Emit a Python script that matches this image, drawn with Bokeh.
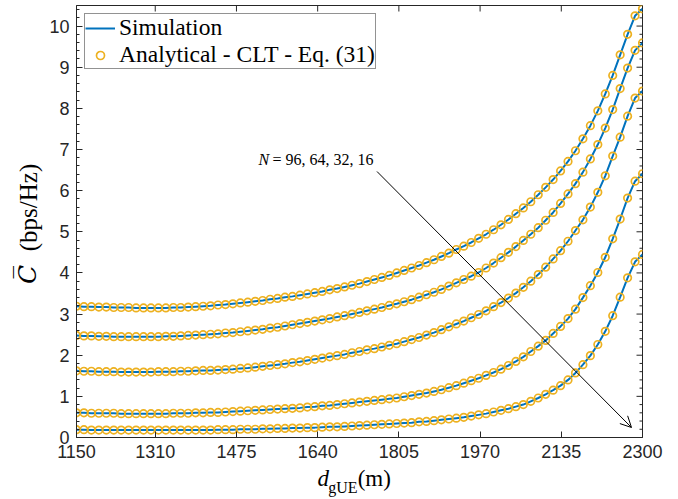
import numpy as np
from bokeh.plotting import figure
from bokeh.layouts import row, column
from bokeh.models import (Range1d, FixedTicker, SingleIntervalTicker, Label,
                          Arrow, OpenHead, Legend, LegendItem)
from bokeh.embed import file_html
from bokeh.resources import INLINE

# ---------------- data ----------------
d_start, d_stop, n_points = 1150, 2300, 77
d_gue = np.linspace(d_start, d_stop, n_points)

cap_1 = [3.19, 3.18, 3.18, 3.17, 3.17, 3.16, 3.16, 3.16, 3.15, 3.15,
         3.15, 3.15, 3.15, 3.16, 3.16, 3.17, 3.18, 3.19, 3.20, 3.22,
         3.23, 3.25, 3.27, 3.29, 3.31, 3.33, 3.36, 3.38, 3.41, 3.43,
         3.46, 3.49, 3.52, 3.55, 3.59, 3.62, 3.66, 3.70, 3.74, 3.79,
         3.84, 3.89, 3.94, 4.00, 4.06, 4.12, 4.18, 4.25, 4.32, 4.40,
         4.48, 4.57, 4.65, 4.74, 4.84, 4.94, 5.05, 5.17, 5.30, 5.44,
         5.58, 5.73, 5.90, 6.08, 6.27, 6.48, 6.71, 6.97, 7.26, 7.58,
         7.94, 8.35, 8.80, 9.30, 9.80, 10.25, 10.42]
cap_2 = [2.48, 2.47, 2.47, 2.46, 2.46, 2.45, 2.45, 2.45, 2.45, 2.45,
         2.45, 2.45, 2.46, 2.46, 2.47, 2.48, 2.49, 2.50, 2.51, 2.52,
         2.54, 2.55, 2.57, 2.59, 2.61, 2.63, 2.66, 2.68, 2.71, 2.74,
         2.77, 2.80, 2.83, 2.86, 2.89, 2.93, 2.96, 3.00, 3.04, 3.08,
         3.12, 3.16, 3.21, 3.25, 3.30, 3.35, 3.41, 3.47, 3.53, 3.60,
         3.68, 3.76, 3.84, 3.92, 4.01, 4.12, 4.24, 4.37, 4.50, 4.64,
         4.79, 4.94, 5.10, 5.28, 5.47, 5.69, 5.92, 6.17, 6.45, 6.77,
         7.12, 7.52, 7.97, 8.48, 8.98, 9.41, 9.59]
cap_3 = [1.62, 1.61, 1.61, 1.60, 1.60, 1.60, 1.59, 1.59, 1.59, 1.59,
         1.59, 1.60, 1.60, 1.60, 1.61, 1.61, 1.62, 1.63, 1.63, 1.64,
         1.65, 1.66, 1.68, 1.69, 1.71, 1.73, 1.75, 1.77, 1.79, 1.82,
         1.84, 1.87, 1.90, 1.93, 1.96, 1.99, 2.02, 2.06, 2.09, 2.13,
         2.16, 2.20, 2.24, 2.28, 2.33, 2.38, 2.43, 2.49, 2.55, 2.62,
         2.69, 2.76, 2.83, 2.91, 2.99, 3.08, 3.18, 3.28, 3.39, 3.51,
         3.65, 3.80, 3.96, 4.14, 4.34, 4.54, 4.77, 5.03, 5.29, 5.60,
         5.96, 6.36, 6.84, 7.30, 7.81, 8.25, 8.42]
cap_4 = [0.60, 0.60, 0.59, 0.59, 0.59, 0.59, 0.58, 0.58, 0.58, 0.58,
         0.58, 0.58, 0.58, 0.59, 0.59, 0.59, 0.60, 0.60, 0.61, 0.61,
         0.62, 0.63, 0.64, 0.65, 0.66, 0.67, 0.68, 0.69, 0.70, 0.71,
         0.72, 0.74, 0.75, 0.77, 0.78, 0.80, 0.82, 0.84, 0.86, 0.88,
         0.90, 0.92, 0.94, 0.96, 0.99, 1.02, 1.05, 1.08, 1.12, 1.16,
         1.21, 1.26, 1.32, 1.38, 1.44, 1.51, 1.58, 1.66, 1.75, 1.85,
         1.96, 2.09, 2.22, 2.36, 2.53, 2.70, 2.89, 3.12, 3.40, 3.69,
         4.01, 4.38, 4.83, 5.31, 5.82, 6.23, 6.41]
cap_5 = [0.19, 0.19, 0.18, 0.18, 0.18, 0.18, 0.18, 0.18, 0.18, 0.18,
         0.18, 0.18, 0.18, 0.18, 0.18, 0.18, 0.18, 0.18, 0.18, 0.19,
         0.19, 0.19, 0.20, 0.20, 0.20, 0.21, 0.21, 0.22, 0.22, 0.23,
         0.23, 0.24, 0.24, 0.25, 0.26, 0.26, 0.27, 0.28, 0.29, 0.30,
         0.31, 0.32, 0.33, 0.34, 0.35, 0.36, 0.38, 0.39, 0.41, 0.43,
         0.45, 0.47, 0.49, 0.52, 0.55, 0.58, 0.62, 0.66, 0.70, 0.75,
         0.80, 0.88, 0.96, 1.05, 1.15, 1.26, 1.40, 1.57, 1.77, 1.99,
         2.26, 2.58, 2.96, 3.41, 3.88, 4.27, 4.45]
curves = [cap_1, cap_2, cap_3, cap_4, cap_5]

x_ticks = [1150, 1310, 1475, 1640, 1805, 1970, 2135, 2300]
y_ticks = [0, 1, 2, 3, 4, 5, 6, 7, 8, 9, 10]
y_min, y_max = 0, 10.5

sim_label = "Simulation"
ana_label = "Analytical - CLT - Eq. (31)"
annot_var = "N"
annot_vals = "= 96, 64, 32, 16"

# ---------------- layout (global page pixels) ----------------
W, H = 678, 499
YL_W = 46          # strip on the left holding the y label
XL_TOP = 464       # strip at the bottom holding the x label
FL, FR, FT, FB = 76, 642, 5, 437   # plot frame edges
UX = (d_stop - d_start) / (FR - FL)
UY = (y_max - y_min) / (FB - FT)

def dx(px):
    return d_start + (px - FL) * UX

def dy(py):
    return y_min + (FB - py) * UY

BLUE = "#0072BD"
ORANGE = "#EDB120"
AX = "#262626"
SERIF = "Liberation Serif"

p = figure(width=W - YL_W, height=XL_TOP, x_range=Range1d(d_start, d_stop),
           y_range=Range1d(y_min, y_max), output_backend="svg", toolbar_location=None,
           min_border_left=FL - YL_W, min_border_right=W - FR, min_border_top=FT,
           min_border_bottom=XL_TOP - FB)
p.xgrid.visible = False
p.ygrid.visible = False
p.outline_line_color = AX
p.outline_line_width = 1
p.background_fill_color = "white"
p.border_fill_color = "white"

def style_axis(ax):
    ax.axis_line_color = AX
    ax.axis_line_width = 1
    ax.major_tick_line_color = AX
    ax.minor_tick_line_color = AX
    ax.major_tick_in = 6
    ax.major_tick_out = 0
    ax.minor_tick_in = 3
    ax.minor_tick_out = 0
    ax.major_label_text_font = "Liberation Sans"
    ax.major_label_text_font_size = "18px"
    ax.major_label_text_color = AX

xa = p.xaxis[0]
xa.ticker = FixedTicker(ticks=x_ticks, minor_ticks=[])
style_axis(xa)
xa.major_label_standoff = 7

ya = p.yaxis[0]
ya.ticker = SingleIntervalTicker(interval=1, num_minor_ticks=5)
style_axis(ya)
ya.major_label_standoff = 7

# mirrored ticks on top and right edges (inside the box)
y_minor = [t + k * 0.2 for t in y_ticks for k in range(1, 5) if t + k * 0.2 < y_max]
p.segment(x0=x_ticks, y0=[y_max] * len(x_ticks), x1=x_ticks, y1=[y_max - 6 * UY] * len(x_ticks),
          line_color=AX, line_width=1)
p.segment(x0=[d_stop] * len(y_ticks), y0=y_ticks, x1=[d_stop - 6 * UX] * len(y_ticks), y1=y_ticks,
          line_color=AX, line_width=1)
p.segment(x0=[d_stop] * len(y_minor), y0=y_minor, x1=[d_stop - 3 * UX] * len(y_minor), y1=y_minor,
          line_color=AX, line_width=1)

# ---------------- glyphs ----------------
line_rs, scat_rs = [], []
for c in curves:
    line_rs.append(p.line(d_gue, c, line_color=BLUE, line_width=2))
for c in curves:
    scat_rs.append(p.scatter(d_gue, c, marker="circle", size=7.5, fill_color=None,
                             line_color=ORANGE, line_width=1.7))

legend = Legend(items=[LegendItem(label=sim_label, renderers=[line_rs[0]]),
                       LegendItem(label=ana_label, renderers=[scat_rs[0]])],
                location="top_left", margin=8, padding=0, spacing=0,
                glyph_width=30, glyph_height=20, label_height=20, label_standoff=4,
                label_text_font=SERIF, label_text_font_size="23.5px",
                label_text_color="black",
                border_line_color=AX, border_line_width=1,
                background_fill_color="white", background_fill_alpha=1)
p.add_layout(legend)

# annotation arrow
p.add_layout(Arrow(end=OpenHead(size=11, line_width=1, line_color="black"),
                   x_start=dx(376.5), y_start=dy(171), x_end=dx(631), y_end=dy(427),
                   line_color="black", line_width=1))
p.add_layout(Label(x=dx(258), y=dy(167), text=annot_var, text_font=SERIF,
                   text_font_style="italic", text_font_size="16px", text_color="black"))
p.add_layout(Label(x=dx(272), y=dy(167), text=annot_vals, text_font=SERIF,
                   text_font_size="16px", text_color="black"))

# ---------------- label strips ----------------
def strip(width, height):
    f = figure(width=width, height=height, x_range=Range1d(0, width), y_range=Range1d(0, height),
               output_backend="svg", toolbar_location=None, x_axis_location=None,
               y_axis_location=None, min_border=0, min_border_left=0, min_border_right=0,
               min_border_top=0, min_border_bottom=0)
    f.xgrid.visible = False
    f.ygrid.visible = False
    f.outline_line_color = None
    f.background_fill_color = "white"
    f.border_fill_color = "white"
    return f

ylab = strip(YL_W, H)
ylab.add_layout(Label(x=41, y=H - 274, text="C\u0305", angle=np.pi / 2, text_align="center",
                      text_font="DejaVu Serif", text_font_style="italic",
                      text_font_size="25px", text_color="black"))
ylab.add_layout(Label(x=41, y=H - 207, text="(bps/Hz)", angle=np.pi / 2, text_align="center",
                      text_font=SERIF, text_font_size="25px", text_color="black"))

xlab = strip(W - YL_W, H - XL_TOP)
xlab.add_layout(Label(x=315 - YL_W, y=H - 490, text="d", text_font=SERIF, text_font_style="italic",
                      text_font_size="23px", text_color="black"))
xlab.add_layout(Label(x=327 - YL_W, y=H - 495, text="gUE", text_font=SERIF,
                      text_font_size="16px", text_color="black"))
xlab.add_layout(Label(x=360 - YL_W, y=H - 490, text="(m)", text_font=SERIF,
                      text_font_size="23px", text_color="black"))

layout = row(ylab, column(p, xlab, spacing=0), spacing=0)

open("out.html", "w").write(file_html(layout, INLINE))
